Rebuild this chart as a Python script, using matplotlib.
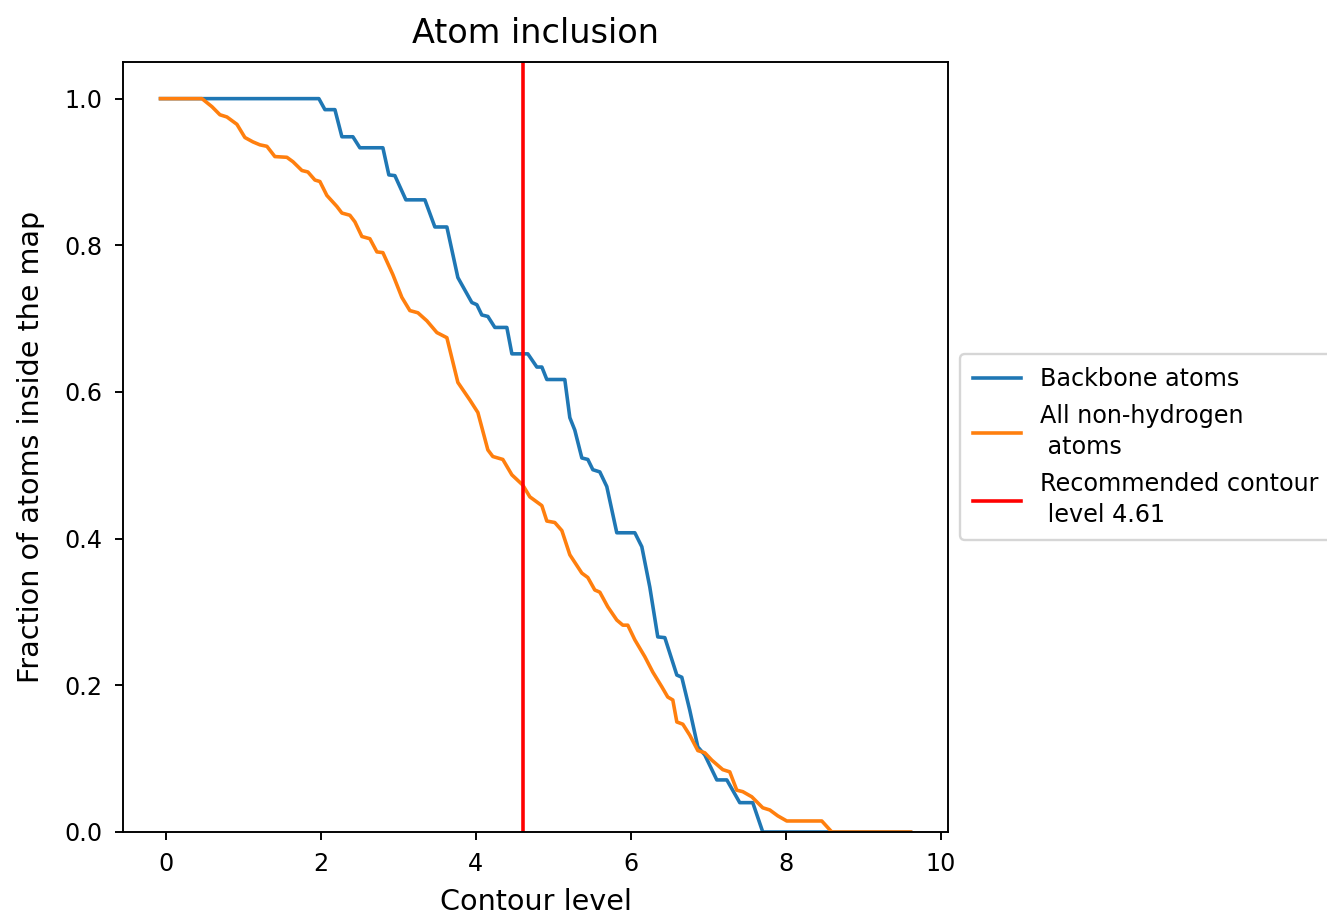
import matplotlib.pyplot as plt

# values
backbone_x = [-0.07, 1.974, 2.052, 2.181, 2.271, 2.413, 2.503, 2.800, 2.877, 2.955,
              3.097, 3.342, 3.471, 3.626, 3.768, 3.948, 4.013, 4.077, 4.155, 4.245,
              4.400, 4.465, 4.671, 4.787, 4.852, 4.916, 5.148, 5.213, 5.277, 5.368,
              5.445, 5.510, 5.600, 5.690, 5.819, 6.052, 6.142, 6.245, 6.348, 6.439,
              6.594, 6.658, 6.761, 6.865, 6.955, 7.110, 7.239, 7.406, 7.574, 7.703,
              9.61]
backbone_y = [1.0, 1.0, 0.985, 0.985, 0.948, 0.948, 0.933, 0.933, 0.896, 0.895,
              0.862, 0.862, 0.825, 0.825, 0.756, 0.722, 0.719, 0.705, 0.703, 0.688,
              0.688, 0.652, 0.652, 0.634, 0.634, 0.617, 0.617, 0.565, 0.548, 0.510,
              0.508, 0.494, 0.491, 0.471, 0.408, 0.408, 0.389, 0.334, 0.266, 0.265,
              0.214, 0.211, 0.166, 0.116, 0.105, 0.071, 0.071, 0.040, 0.040, 0.0,
              0.0]

heavy_x = [-0.07, 0.465, 0.594, 0.697, 0.787, 0.916, 1.019, 1.123, 1.213, 1.303,
           1.406, 1.561, 1.639, 1.755, 1.832, 1.923, 1.987, 2.077, 2.206, 2.271,
           2.374, 2.439, 2.529, 2.632, 2.723, 2.800, 2.929, 3.045, 3.148, 3.252,
           3.368, 3.497, 3.626, 3.768, 3.923, 4.026, 4.155, 4.219, 4.348, 4.465,
           4.606, 4.697, 4.852, 4.916, 5.019, 5.110, 5.213, 5.368, 5.445, 5.535,
           5.600, 5.703, 5.819, 5.897, 5.961, 6.052, 6.181, 6.284, 6.400, 6.477,
           6.542, 6.594, 6.671, 6.761, 6.865, 6.955, 7.045, 7.187, 7.277, 7.368,
           7.445, 7.561, 7.703, 7.794, 7.897, 8.013, 8.465, 8.594, 9.61]
heavy_y = [1.0, 1.0, 0.989, 0.978, 0.975, 0.965, 0.947, 0.941, 0.937, 0.935,
           0.921, 0.920, 0.914, 0.902, 0.900, 0.889, 0.887, 0.868, 0.853, 0.844,
           0.841, 0.832, 0.812, 0.809, 0.791, 0.790, 0.760, 0.729, 0.711, 0.708,
           0.697, 0.681, 0.674, 0.613, 0.589, 0.572, 0.521, 0.512, 0.508, 0.487,
           0.473, 0.457, 0.445, 0.424, 0.422, 0.411, 0.378, 0.353, 0.347, 0.330,
           0.327, 0.307, 0.289, 0.282, 0.282, 0.262, 0.239, 0.218, 0.198, 0.184,
           0.180, 0.150, 0.147, 0.132, 0.111, 0.108, 0.098, 0.085, 0.082, 0.057,
           0.055, 0.048, 0.033, 0.030, 0.022, 0.015, 0.015, 0.0, 0.0]

recommended = 4.61

fig = plt.figure(figsize=(1327 / 172, 918 / 172), dpi=172)
ax = fig.add_axes([0.0927, 0.0937, 0.6217, 0.8388])

ax.plot(backbone_x, backbone_y, label='Backbone atoms')
ax.plot(heavy_x, heavy_y, label='All non-hydrogen\n atoms')
ax.axvline(recommended, color='red', label='Recommended contour\n level %.2f' % recommended)

ax.set_ylim(0, 1.05)
ax.tick_params(axis='both', pad=5)
ax.set_title('Atom inclusion', fontsize=14, pad=8)
ax.set_xlabel('Contour level', fontsize=12, labelpad=5)
ax.set_ylabel('Fraction of atoms inside the map', fontsize=12, labelpad=8)
leg = ax.legend(loc='center left', bbox_to_anchor=(1, 0.5), borderpad=0.55, labelspacing=0.55)
for t in leg.get_texts():
    t.set_linespacing(1.35)

fig.savefig('out.png', dpi=172)
